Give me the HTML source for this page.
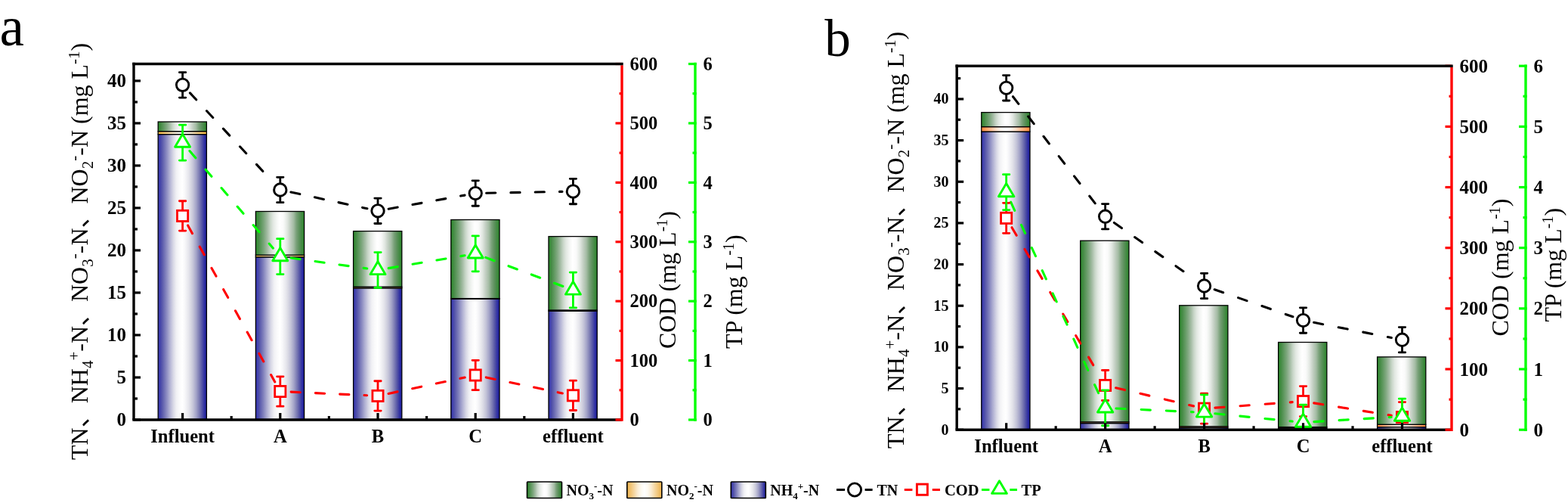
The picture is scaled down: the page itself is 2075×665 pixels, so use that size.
<!DOCTYPE html>
<html><head><meta charset="utf-8"><title>Figure</title>
<style>html,body{margin:0;padding:0;background:#fff;overflow:hidden}svg{display:block}text{font-family:'Liberation Serif', 'Noto Sans CJK SC', serif;fill:#000}</style>
</head><body>
<svg width="2075" height="665" viewBox="0 0 2075 665">
<defs><linearGradient id="gb" x1="0" y1="0" x2="1" y2="0"><stop offset="0.000" stop-color="#3030b0"/><stop offset="0.077" stop-color="#5555aa"/><stop offset="0.156" stop-color="#8080bc"/><stop offset="0.234" stop-color="#aeaed2"/><stop offset="0.313" stop-color="#d8d8e6"/><stop offset="0.376" stop-color="#f0f0f4"/><stop offset="0.439" stop-color="#fafafb"/><stop offset="0.500" stop-color="#ffffff"/><stop offset="0.549" stop-color="#f8f8fa"/><stop offset="0.627" stop-color="#e6e6ec"/><stop offset="0.675" stop-color="#d6d6e2"/><stop offset="0.722" stop-color="#c4c4d8"/><stop offset="0.785" stop-color="#a4a4c8"/><stop offset="0.847" stop-color="#7c7cb4"/><stop offset="0.910" stop-color="#5050a4"/><stop offset="0.958" stop-color="#2e2ea4"/><stop offset="1.000" stop-color="#1a1a9a"/></linearGradient><linearGradient id="gg" x1="0" y1="0" x2="1" y2="0"><stop offset="0.000" stop-color="#289028"/><stop offset="0.050" stop-color="#428a42"/><stop offset="0.110" stop-color="#5e985e"/><stop offset="0.170" stop-color="#7ca67c"/><stop offset="0.240" stop-color="#a4bca4"/><stop offset="0.300" stop-color="#c8d6c8"/><stop offset="0.360" stop-color="#e2e8e2"/><stop offset="0.430" stop-color="#f4f6f4"/><stop offset="0.490" stop-color="#ffffff"/><stop offset="0.560" stop-color="#fbfbfb"/><stop offset="0.590" stop-color="#f4f6f4"/><stop offset="0.650" stop-color="#e0e6e0"/><stop offset="0.710" stop-color="#c4d0c4"/><stop offset="0.780" stop-color="#a4bca4"/><stop offset="0.840" stop-color="#78a078"/><stop offset="0.900" stop-color="#5a905a"/><stop offset="0.970" stop-color="#388838"/><stop offset="1.000" stop-color="#228a22"/></linearGradient><linearGradient id="goa" x1="0" y1="0" x2="1" y2="0"><stop offset="0.000" stop-color="#ffbc3a"/><stop offset="0.100" stop-color="#ffcc69"/><stop offset="0.200" stop-color="#ffdc99"/><stop offset="0.300" stop-color="#ffeecc"/><stop offset="0.400" stop-color="#fffaef"/><stop offset="0.500" stop-color="#ffffff"/><stop offset="0.600" stop-color="#fffaef"/><stop offset="0.700" stop-color="#ffeecc"/><stop offset="0.800" stop-color="#ffdc99"/><stop offset="0.900" stop-color="#ffcc69"/><stop offset="1.000" stop-color="#ffbc3a"/></linearGradient><linearGradient id="gob" x1="0" y1="0" x2="1" y2="0"><stop offset="0.000" stop-color="#ff8838"/><stop offset="0.100" stop-color="#ffa568"/><stop offset="0.200" stop-color="#ffc198"/><stop offset="0.300" stop-color="#ffe0cb"/><stop offset="0.400" stop-color="#fff5ef"/><stop offset="0.500" stop-color="#ffffff"/><stop offset="0.600" stop-color="#fff5ef"/><stop offset="0.700" stop-color="#ffe0cb"/><stop offset="0.800" stop-color="#ffc198"/><stop offset="0.900" stop-color="#ffa568"/><stop offset="1.000" stop-color="#ff8838"/></linearGradient><linearGradient id="gol" x1="0" y1="0" x2="1" y2="0"><stop offset="0.000" stop-color="#ecb048"/><stop offset="0.100" stop-color="#f1c374"/><stop offset="0.200" stop-color="#f5d6a0"/><stop offset="0.300" stop-color="#faeacf"/><stop offset="0.400" stop-color="#fdf9f0"/><stop offset="0.500" stop-color="#ffffff"/><stop offset="0.600" stop-color="#fdf9f0"/><stop offset="0.700" stop-color="#faeacf"/><stop offset="0.800" stop-color="#f5d6a0"/><stop offset="0.900" stop-color="#f1c374"/><stop offset="1.000" stop-color="#ecb048"/></linearGradient><clipPath id="clipa"><rect x="177.00" y="84.50" width="646.00" height="470.50"/></clipPath><clipPath id="clipb"><rect x="1266.20" y="87.20" width="654.80" height="481.00"/></clipPath></defs>
<rect width="2075" height="665" fill="#fff"/>
<rect x="209.20" y="177.60" width="64.20" height="377.40" fill="url(#gb)" stroke="#000" stroke-width="1.30"/>
<rect x="209.20" y="173.70" width="64.20" height="3.90" fill="url(#goa)" stroke="#000" stroke-width="1.30"/>
<rect x="209.20" y="161.00" width="64.20" height="12.70" fill="url(#gg)" stroke="#000" stroke-width="1.30"/>
<rect x="338.40" y="339.80" width="64.20" height="215.20" fill="url(#gb)" stroke="#000" stroke-width="1.30"/>
<rect x="338.40" y="337.20" width="64.20" height="2.60" fill="url(#goa)" stroke="#000" stroke-width="1.30"/>
<rect x="338.40" y="279.50" width="64.20" height="57.70" fill="url(#gg)" stroke="#000" stroke-width="1.30"/>
<rect x="467.60" y="380.90" width="64.20" height="174.10" fill="url(#gb)" stroke="#000" stroke-width="1.30"/>
<rect x="467.60" y="379.20" width="64.20" height="1.70" fill="url(#goa)" stroke="#000" stroke-width="1.30"/>
<rect x="467.60" y="305.60" width="64.20" height="73.60" fill="url(#gg)" stroke="#000" stroke-width="1.30"/>
<rect x="596.80" y="395.20" width="64.20" height="159.80" fill="url(#gb)" stroke="#000" stroke-width="1.30"/>
<rect x="596.80" y="394.60" width="64.20" height="0.60" fill="url(#goa)" stroke="#000" stroke-width="1.30"/>
<rect x="596.80" y="290.50" width="64.20" height="104.10" fill="url(#gg)" stroke="#000" stroke-width="1.30"/>
<rect x="726.00" y="411.20" width="64.20" height="143.80" fill="url(#gb)" stroke="#000" stroke-width="1.30"/>
<rect x="726.00" y="410.00" width="64.20" height="1.20" fill="url(#goa)" stroke="#000" stroke-width="1.30"/>
<rect x="726.00" y="312.60" width="64.20" height="97.40" fill="url(#gg)" stroke="#000" stroke-width="1.30"/>
<g clip-path="url(#clipa)">
<line x1="251.42" y1="122.89" x2="360.98" y2="240.46" stroke="#000" stroke-width="3.1" stroke-dasharray="12.2 20.1" stroke-linecap="round"/>
<line x1="384.88" y1="254.03" x2="485.92" y2="275.77" stroke="#000" stroke-width="3.1" stroke-dasharray="12.2 20.1" stroke-linecap="round"/>
<line x1="514.17" y1="276.25" x2="615.03" y2="258.10" stroke="#000" stroke-width="3.1" stroke-dasharray="12.2 20.1" stroke-linecap="round"/>
<line x1="643.60" y1="255.27" x2="744.00" y2="253.33" stroke="#000" stroke-width="3.1" stroke-dasharray="12.2 20.1" stroke-linecap="round"/>
<line x1="248.60" y1="297.98" x2="363.80" y2="504.92" stroke="#f00" stroke-width="3.1" stroke-dasharray="12.2 20.1" stroke-linecap="round"/>
<line x1="385.19" y1="518.16" x2="485.61" y2="522.74" stroke="#f00" stroke-width="3.1" stroke-dasharray="12.2 20.1" stroke-linecap="round"/>
<line x1="514.09" y1="520.41" x2="615.11" y2="498.99" stroke="#f00" stroke-width="3.1" stroke-dasharray="12.2 20.1" stroke-linecap="round"/>
<line x1="643.30" y1="498.93" x2="744.30" y2="519.92" stroke="#f00" stroke-width="3.1" stroke-dasharray="12.2 20.1" stroke-linecap="round"/>
<line x1="250.98" y1="199.53" x2="361.42" y2="328.17" stroke="#0f0" stroke-width="3.1" stroke-dasharray="12.2 20.1" stroke-linecap="round"/>
<line x1="385.06" y1="341.08" x2="485.74" y2="355.02" stroke="#0f0" stroke-width="3.1" stroke-dasharray="12.2 20.1" stroke-linecap="round"/>
<line x1="514.20" y1="354.63" x2="615.00" y2="337.77" stroke="#0f0" stroke-width="3.1" stroke-dasharray="12.2 20.1" stroke-linecap="round"/>
<line x1="642.70" y1="340.42" x2="744.90" y2="378.48" stroke="#0f0" stroke-width="3.1" stroke-dasharray="12.2 20.1" stroke-linecap="round"/>
<path d="M241.60 95.65 V129.05 M237.40 95.65 h8.4 M237.40 129.05 h8.4" stroke="#000" stroke-width="2.8" stroke-linecap="round" fill="none"/>
<path d="M370.80 234.30 V267.70 M366.60 234.30 h8.4 M366.60 267.70 h8.4" stroke="#000" stroke-width="2.8" stroke-linecap="round" fill="none"/>
<path d="M500.00 262.10 V295.50 M495.80 262.10 h8.4 M495.80 295.50 h8.4" stroke="#000" stroke-width="2.8" stroke-linecap="round" fill="none"/>
<path d="M629.20 238.85 V272.25 M625.00 238.85 h8.4 M625.00 272.25 h8.4" stroke="#000" stroke-width="2.8" stroke-linecap="round" fill="none"/>
<path d="M758.40 236.35 V269.75 M754.20 236.35 h8.4 M754.20 269.75 h8.4" stroke="#000" stroke-width="2.8" stroke-linecap="round" fill="none"/>
<circle cx="241.60" cy="112.35" r="8.2" fill="#fff" stroke="#000" stroke-width="2.9"/>
<circle cx="370.80" cy="251.00" r="8.2" fill="#fff" stroke="#000" stroke-width="2.9"/>
<circle cx="500.00" cy="278.80" r="8.2" fill="#fff" stroke="#000" stroke-width="2.9"/>
<circle cx="629.20" cy="255.55" r="8.2" fill="#fff" stroke="#000" stroke-width="2.9"/>
<circle cx="758.40" cy="253.05" r="8.2" fill="#fff" stroke="#000" stroke-width="2.9"/>
<path d="M241.60 265.75 V305.05 M237.40 265.75 h8.4 M237.40 305.05 h8.4" stroke="#f00" stroke-width="2.8" stroke-linecap="round" fill="none"/>
<path d="M370.80 497.85 V537.15 M366.60 497.85 h8.4 M366.60 537.15 h8.4" stroke="#f00" stroke-width="2.8" stroke-linecap="round" fill="none"/>
<path d="M500.00 503.75 V543.05 M495.80 503.75 h8.4 M495.80 543.05 h8.4" stroke="#f00" stroke-width="2.8" stroke-linecap="round" fill="none"/>
<path d="M629.20 476.35 V515.65 M625.00 476.35 h8.4 M625.00 515.65 h8.4" stroke="#f00" stroke-width="2.8" stroke-linecap="round" fill="none"/>
<path d="M758.40 503.20 V542.50 M754.20 503.20 h8.4 M754.20 542.50 h8.4" stroke="#f00" stroke-width="2.8" stroke-linecap="round" fill="none"/>
<rect x="234.50" y="278.30" width="14.2" height="14.2" fill="#fff" stroke="#f00" stroke-width="2.8"/>
<rect x="363.70" y="510.40" width="14.2" height="14.2" fill="#fff" stroke="#f00" stroke-width="2.8"/>
<rect x="492.90" y="516.30" width="14.2" height="14.2" fill="#fff" stroke="#f00" stroke-width="2.8"/>
<rect x="622.10" y="488.90" width="14.2" height="14.2" fill="#fff" stroke="#f00" stroke-width="2.8"/>
<rect x="751.30" y="515.75" width="14.2" height="14.2" fill="#fff" stroke="#f00" stroke-width="2.8"/>
<path d="M241.60 165.15 V212.05 M237.40 165.15 h8.4 M237.40 212.05 h8.4" stroke="#0f0" stroke-width="2.8" stroke-linecap="round" fill="none"/>
<path d="M370.80 315.65 V362.55 M366.60 315.65 h8.4 M366.60 362.55 h8.4" stroke="#0f0" stroke-width="2.8" stroke-linecap="round" fill="none"/>
<path d="M500.00 333.55 V380.45 M495.80 333.55 h8.4 M495.80 380.45 h8.4" stroke="#0f0" stroke-width="2.8" stroke-linecap="round" fill="none"/>
<path d="M629.20 311.95 V358.85 M625.00 311.95 h8.4 M625.00 358.85 h8.4" stroke="#0f0" stroke-width="2.8" stroke-linecap="round" fill="none"/>
<path d="M758.40 360.05 V406.95 M754.20 360.05 h8.4 M754.20 406.95 h8.4" stroke="#0f0" stroke-width="2.8" stroke-linecap="round" fill="none"/>
<path d="M241.60 177.30 L251.60 194.25 L231.60 194.25 Z" fill="#fff" stroke="#0f0" stroke-width="2.9" stroke-linejoin="round"/>
<path d="M370.80 327.80 L380.80 344.75 L360.80 344.75 Z" fill="#fff" stroke="#0f0" stroke-width="2.9" stroke-linejoin="round"/>
<path d="M500.00 345.70 L510.00 362.65 L490.00 362.65 Z" fill="#fff" stroke="#0f0" stroke-width="2.9" stroke-linejoin="round"/>
<path d="M629.20 324.10 L639.20 341.05 L619.20 341.05 Z" fill="#fff" stroke="#0f0" stroke-width="2.9" stroke-linejoin="round"/>
<path d="M758.40 372.20 L768.40 389.15 L748.40 389.15 Z" fill="#fff" stroke="#0f0" stroke-width="2.9" stroke-linejoin="round"/>
</g>
<line x1="241.60" y1="555.00" x2="241.60" y2="546.00" stroke="#000" stroke-width="3.2"/>
<line x1="370.80" y1="555.00" x2="370.80" y2="546.00" stroke="#000" stroke-width="3.2"/>
<line x1="500.00" y1="555.00" x2="500.00" y2="546.00" stroke="#000" stroke-width="3.2"/>
<line x1="629.20" y1="555.00" x2="629.20" y2="546.00" stroke="#000" stroke-width="3.2"/>
<line x1="758.40" y1="555.00" x2="758.40" y2="546.00" stroke="#000" stroke-width="3.2"/>
<line x1="306.20" y1="555.00" x2="306.20" y2="550.00" stroke="#000" stroke-width="3.2"/>
<line x1="435.40" y1="555.00" x2="435.40" y2="550.00" stroke="#000" stroke-width="3.2"/>
<line x1="564.60" y1="555.00" x2="564.60" y2="550.00" stroke="#000" stroke-width="3.2"/>
<line x1="693.80" y1="555.00" x2="693.80" y2="550.00" stroke="#000" stroke-width="3.2"/>
<line x1="177.00" y1="555.00" x2="186.00" y2="555.00" stroke="#000" stroke-width="3.2"/>
<text x="167.00" y="563.40" text-anchor="end" font-size="25" font-weight="bold">0</text>
<line x1="177.00" y1="526.99" x2="182.00" y2="526.99" stroke="#000" stroke-width="3.2"/>
<line x1="177.00" y1="498.99" x2="186.00" y2="498.99" stroke="#000" stroke-width="3.2"/>
<text x="167.00" y="507.39" text-anchor="end" font-size="25" font-weight="bold">5</text>
<line x1="177.00" y1="470.98" x2="182.00" y2="470.98" stroke="#000" stroke-width="3.2"/>
<line x1="177.00" y1="442.98" x2="186.00" y2="442.98" stroke="#000" stroke-width="3.2"/>
<text x="167.00" y="451.38" text-anchor="end" font-size="25" font-weight="bold">10</text>
<line x1="177.00" y1="414.97" x2="182.00" y2="414.97" stroke="#000" stroke-width="3.2"/>
<line x1="177.00" y1="386.96" x2="186.00" y2="386.96" stroke="#000" stroke-width="3.2"/>
<text x="167.00" y="395.36" text-anchor="end" font-size="25" font-weight="bold">15</text>
<line x1="177.00" y1="358.96" x2="182.00" y2="358.96" stroke="#000" stroke-width="3.2"/>
<line x1="177.00" y1="330.95" x2="186.00" y2="330.95" stroke="#000" stroke-width="3.2"/>
<text x="167.00" y="339.35" text-anchor="end" font-size="25" font-weight="bold">20</text>
<line x1="177.00" y1="302.95" x2="182.00" y2="302.95" stroke="#000" stroke-width="3.2"/>
<line x1="177.00" y1="274.94" x2="186.00" y2="274.94" stroke="#000" stroke-width="3.2"/>
<text x="167.00" y="283.34" text-anchor="end" font-size="25" font-weight="bold">25</text>
<line x1="177.00" y1="246.93" x2="182.00" y2="246.93" stroke="#000" stroke-width="3.2"/>
<line x1="177.00" y1="218.93" x2="186.00" y2="218.93" stroke="#000" stroke-width="3.2"/>
<text x="167.00" y="227.33" text-anchor="end" font-size="25" font-weight="bold">30</text>
<line x1="177.00" y1="190.92" x2="182.00" y2="190.92" stroke="#000" stroke-width="3.2"/>
<line x1="177.00" y1="162.92" x2="186.00" y2="162.92" stroke="#000" stroke-width="3.2"/>
<text x="167.00" y="171.32" text-anchor="end" font-size="25" font-weight="bold">35</text>
<line x1="177.00" y1="134.91" x2="182.00" y2="134.91" stroke="#000" stroke-width="3.2"/>
<line x1="177.00" y1="106.90" x2="186.00" y2="106.90" stroke="#000" stroke-width="3.2"/>
<text x="167.00" y="115.30" text-anchor="end" font-size="25" font-weight="bold">40</text>
<line x1="177.00" y1="555.00" x2="177.00" y2="82.80" stroke="#000" stroke-width="3.4"/>
<line x1="175.30" y1="555.00" x2="823.00" y2="555.00" stroke="#000" stroke-width="3.4"/>
<line x1="823.00" y1="86.20" x2="823.00" y2="556.70" stroke="#f00" stroke-width="3.4"/>
<line x1="823.00" y1="555.00" x2="814.50" y2="555.00" stroke="#f00" stroke-width="3.2"/>
<text x="833.50" y="563.30" font-size="24.5" font-weight="bold">0</text>
<line x1="823.00" y1="515.79" x2="819.50" y2="515.79" stroke="#f00" stroke-width="3.2"/>
<line x1="823.00" y1="476.58" x2="814.50" y2="476.58" stroke="#f00" stroke-width="3.2"/>
<text x="833.50" y="484.88" font-size="24.5" font-weight="bold">100</text>
<line x1="823.00" y1="437.38" x2="819.50" y2="437.38" stroke="#f00" stroke-width="3.2"/>
<line x1="823.00" y1="398.17" x2="814.50" y2="398.17" stroke="#f00" stroke-width="3.2"/>
<text x="833.50" y="406.47" font-size="24.5" font-weight="bold">200</text>
<line x1="823.00" y1="358.96" x2="819.50" y2="358.96" stroke="#f00" stroke-width="3.2"/>
<line x1="823.00" y1="319.75" x2="814.50" y2="319.75" stroke="#f00" stroke-width="3.2"/>
<text x="833.50" y="328.05" font-size="24.5" font-weight="bold">300</text>
<line x1="823.00" y1="280.54" x2="819.50" y2="280.54" stroke="#f00" stroke-width="3.2"/>
<line x1="823.00" y1="241.33" x2="814.50" y2="241.33" stroke="#f00" stroke-width="3.2"/>
<text x="833.50" y="249.63" font-size="24.5" font-weight="bold">400</text>
<line x1="823.00" y1="202.12" x2="819.50" y2="202.12" stroke="#f00" stroke-width="3.2"/>
<line x1="823.00" y1="162.92" x2="814.50" y2="162.92" stroke="#f00" stroke-width="3.2"/>
<text x="833.50" y="171.22" font-size="24.5" font-weight="bold">500</text>
<line x1="823.00" y1="123.71" x2="819.50" y2="123.71" stroke="#f00" stroke-width="3.2"/>
<line x1="823.00" y1="84.50" x2="814.50" y2="84.50" stroke="#f00" stroke-width="3.2"/>
<text x="833.50" y="92.80" font-size="24.5" font-weight="bold">600</text>
<line x1="920.00" y1="82.80" x2="920.00" y2="556.70" stroke="#0f0" stroke-width="3.4"/>
<line x1="921.70" y1="555.00" x2="911.00" y2="555.00" stroke="#0f0" stroke-width="3.2"/>
<text x="930.50" y="563.30" font-size="24.5" font-weight="bold">0</text>
<line x1="921.70" y1="515.79" x2="916.50" y2="515.79" stroke="#0f0" stroke-width="3.2"/>
<line x1="921.70" y1="476.58" x2="911.00" y2="476.58" stroke="#0f0" stroke-width="3.2"/>
<text x="930.50" y="484.88" font-size="24.5" font-weight="bold">1</text>
<line x1="921.70" y1="437.38" x2="916.50" y2="437.38" stroke="#0f0" stroke-width="3.2"/>
<line x1="921.70" y1="398.17" x2="911.00" y2="398.17" stroke="#0f0" stroke-width="3.2"/>
<text x="930.50" y="406.47" font-size="24.5" font-weight="bold">2</text>
<line x1="921.70" y1="358.96" x2="916.50" y2="358.96" stroke="#0f0" stroke-width="3.2"/>
<line x1="921.70" y1="319.75" x2="911.00" y2="319.75" stroke="#0f0" stroke-width="3.2"/>
<text x="930.50" y="328.05" font-size="24.5" font-weight="bold">3</text>
<line x1="921.70" y1="280.54" x2="916.50" y2="280.54" stroke="#0f0" stroke-width="3.2"/>
<line x1="921.70" y1="241.33" x2="911.00" y2="241.33" stroke="#0f0" stroke-width="3.2"/>
<text x="930.50" y="249.63" font-size="24.5" font-weight="bold">4</text>
<line x1="921.70" y1="202.12" x2="916.50" y2="202.12" stroke="#0f0" stroke-width="3.2"/>
<line x1="921.70" y1="162.92" x2="911.00" y2="162.92" stroke="#0f0" stroke-width="3.2"/>
<text x="930.50" y="171.22" font-size="24.5" font-weight="bold">5</text>
<line x1="921.70" y1="123.71" x2="916.50" y2="123.71" stroke="#0f0" stroke-width="3.2"/>
<line x1="921.70" y1="84.50" x2="911.00" y2="84.50" stroke="#0f0" stroke-width="3.2"/>
<text x="930.50" y="92.80" font-size="24.5" font-weight="bold">6</text>
<line x1="175.30" y1="84.50" x2="824.70" y2="84.50" stroke="#000" stroke-width="3.4"/>
<text x="241.60" y="585.00" text-anchor="middle" font-size="24.6" font-weight="bold">Influent</text>
<text x="370.80" y="585.00" text-anchor="middle" font-size="24.6" font-weight="bold">A</text>
<text x="500.00" y="585.00" text-anchor="middle" font-size="24.6" font-weight="bold">B</text>
<text x="629.20" y="585.00" text-anchor="middle" font-size="24.6" font-weight="bold">C</text>
<text x="758.40" y="585.00" text-anchor="middle" font-size="24.6" font-weight="bold">effluent</text>
<rect x="1298.78" y="174.00" width="64.20" height="394.20" fill="url(#gb)" stroke="#000" stroke-width="1.30"/>
<rect x="1298.78" y="167.60" width="64.20" height="6.40" fill="url(#gob)" stroke="#000" stroke-width="1.30"/>
<rect x="1298.78" y="148.60" width="64.20" height="19.00" fill="url(#gg)" stroke="#000" stroke-width="1.30"/>
<rect x="1429.74" y="559.60" width="64.20" height="8.60" fill="url(#gb)" stroke="#000" stroke-width="1.30"/>
<rect x="1429.74" y="557.80" width="64.20" height="1.80" fill="url(#gob)" stroke="#000" stroke-width="1.30"/>
<rect x="1429.74" y="318.20" width="64.20" height="239.60" fill="url(#gg)" stroke="#000" stroke-width="1.30"/>
<rect x="1560.70" y="565.50" width="64.20" height="2.70" fill="url(#gb)" stroke="#000" stroke-width="1.30"/>
<rect x="1560.70" y="563.80" width="64.20" height="1.70" fill="url(#gob)" stroke="#000" stroke-width="1.30"/>
<rect x="1560.70" y="403.80" width="64.20" height="160.00" fill="url(#gg)" stroke="#000" stroke-width="1.30"/>
<rect x="1691.66" y="566.00" width="64.20" height="2.20" fill="url(#gb)" stroke="#000" stroke-width="1.30"/>
<rect x="1691.66" y="564.60" width="64.20" height="1.40" fill="url(#gob)" stroke="#000" stroke-width="1.30"/>
<rect x="1691.66" y="452.50" width="64.20" height="112.10" fill="url(#gg)" stroke="#000" stroke-width="1.30"/>
<rect x="1822.62" y="564.60" width="64.20" height="3.60" fill="url(#gb)" stroke="#000" stroke-width="1.30"/>
<rect x="1822.62" y="561.20" width="64.20" height="3.40" fill="url(#gob)" stroke="#000" stroke-width="1.30"/>
<rect x="1822.62" y="471.90" width="64.20" height="89.30" fill="url(#gg)" stroke="#000" stroke-width="1.30"/>
<g clip-path="url(#clipb)">
<line x1="1340.47" y1="127.71" x2="1453.85" y2="274.84" stroke="#000" stroke-width="3.1" stroke-dasharray="12.2 21" stroke-linecap="round"/>
<line x1="1474.43" y1="294.51" x2="1581.81" y2="369.74" stroke="#000" stroke-width="3.1" stroke-dasharray="12.2 21" stroke-linecap="round"/>
<line x1="1607.20" y1="382.73" x2="1710.96" y2="418.82" stroke="#000" stroke-width="3.1" stroke-dasharray="12.2 21" stroke-linecap="round"/>
<line x1="1738.69" y1="426.32" x2="1841.39" y2="446.48" stroke="#000" stroke-width="3.1" stroke-dasharray="12.2 21" stroke-linecap="round"/>
<line x1="1339.02" y1="300.74" x2="1455.30" y2="497.11" stroke="#f00" stroke-width="3.1" stroke-dasharray="12.2 21" stroke-linecap="round"/>
<line x1="1476.66" y1="512.78" x2="1579.58" y2="536.87" stroke="#f00" stroke-width="3.1" stroke-dasharray="12.2 21" stroke-linecap="round"/>
<line x1="1607.96" y1="539.10" x2="1710.20" y2="531.65" stroke="#f00" stroke-width="3.1" stroke-dasharray="12.2 21" stroke-linecap="round"/>
<line x1="1738.78" y1="532.88" x2="1841.30" y2="549.32" stroke="#f00" stroke-width="3.1" stroke-dasharray="12.2 21" stroke-linecap="round"/>
<line x1="1337.69" y1="267.19" x2="1456.63" y2="526.21" stroke="#0f0" stroke-width="3.1" stroke-dasharray="12.2 21" stroke-linecap="round"/>
<line x1="1477.02" y1="539.97" x2="1579.22" y2="544.73" stroke="#0f0" stroke-width="3.1" stroke-dasharray="12.2 21" stroke-linecap="round"/>
<line x1="1607.93" y1="546.83" x2="1710.23" y2="557.07" stroke="#0f0" stroke-width="3.1" stroke-dasharray="12.2 21" stroke-linecap="round"/>
<line x1="1738.93" y1="557.63" x2="1841.15" y2="551.47" stroke="#0f0" stroke-width="3.1" stroke-dasharray="12.2 21" stroke-linecap="round"/>
<path d="M1331.68 99.60 V133.00 M1327.48 99.60 h8.4 M1327.48 133.00 h8.4" stroke="#000" stroke-width="2.8" stroke-linecap="round" fill="none"/>
<path d="M1462.64 269.55 V302.95 M1458.44 269.55 h8.4 M1458.44 302.95 h8.4" stroke="#000" stroke-width="2.8" stroke-linecap="round" fill="none"/>
<path d="M1593.60 361.30 V394.70 M1589.40 361.30 h8.4 M1589.40 394.70 h8.4" stroke="#000" stroke-width="2.8" stroke-linecap="round" fill="none"/>
<path d="M1724.56 406.85 V440.25 M1720.36 406.85 h8.4 M1720.36 440.25 h8.4" stroke="#000" stroke-width="2.8" stroke-linecap="round" fill="none"/>
<path d="M1855.52 432.55 V465.95 M1851.32 432.55 h8.4 M1851.32 465.95 h8.4" stroke="#000" stroke-width="2.8" stroke-linecap="round" fill="none"/>
<circle cx="1331.68" cy="116.30" r="8.2" fill="#fff" stroke="#000" stroke-width="2.9"/>
<circle cx="1462.64" cy="286.25" r="8.2" fill="#fff" stroke="#000" stroke-width="2.9"/>
<circle cx="1593.60" cy="378.00" r="8.2" fill="#fff" stroke="#000" stroke-width="2.9"/>
<circle cx="1724.56" cy="423.55" r="8.2" fill="#fff" stroke="#000" stroke-width="2.9"/>
<circle cx="1855.52" cy="449.25" r="8.2" fill="#fff" stroke="#000" stroke-width="2.9"/>
<path d="M1331.68 268.35 V308.35 M1327.48 268.35 h8.4 M1327.48 308.35 h8.4" stroke="#f00" stroke-width="2.8" stroke-linecap="round" fill="none"/>
<path d="M1462.64 489.50 V529.50 M1458.44 489.50 h8.4 M1458.44 529.50 h8.4" stroke="#f00" stroke-width="2.8" stroke-linecap="round" fill="none"/>
<path d="M1593.60 520.15 V560.15 M1589.40 520.15 h8.4 M1589.40 560.15 h8.4" stroke="#f00" stroke-width="2.8" stroke-linecap="round" fill="none"/>
<path d="M1724.56 510.60 V550.60 M1720.36 510.60 h8.4 M1720.36 550.60 h8.4" stroke="#f00" stroke-width="2.8" stroke-linecap="round" fill="none"/>
<path d="M1855.52 531.60 V571.60 M1851.32 531.60 h8.4 M1851.32 571.60 h8.4" stroke="#f00" stroke-width="2.8" stroke-linecap="round" fill="none"/>
<rect x="1324.58" y="281.25" width="14.2" height="14.2" fill="#fff" stroke="#f00" stroke-width="2.8"/>
<rect x="1455.54" y="502.40" width="14.2" height="14.2" fill="#fff" stroke="#f00" stroke-width="2.8"/>
<rect x="1586.50" y="533.05" width="14.2" height="14.2" fill="#fff" stroke="#f00" stroke-width="2.8"/>
<rect x="1717.46" y="523.50" width="14.2" height="14.2" fill="#fff" stroke="#f00" stroke-width="2.8"/>
<rect x="1848.42" y="544.50" width="14.2" height="14.2" fill="#fff" stroke="#f00" stroke-width="2.8"/>
<path d="M1331.68 230.65 V277.55 M1327.48 230.65 h8.4 M1327.48 277.55 h8.4" stroke="#0f0" stroke-width="2.8" stroke-linecap="round" fill="none"/>
<path d="M1462.64 515.85 V562.75 M1458.44 515.85 h8.4 M1458.44 562.75 h8.4" stroke="#0f0" stroke-width="2.8" stroke-linecap="round" fill="none"/>
<path d="M1593.60 521.95 V568.85 M1589.40 521.95 h8.4 M1589.40 568.85 h8.4" stroke="#0f0" stroke-width="2.8" stroke-linecap="round" fill="none"/>
<path d="M1724.56 535.05 V581.95 M1720.36 535.05 h8.4 M1720.36 581.95 h8.4" stroke="#0f0" stroke-width="2.8" stroke-linecap="round" fill="none"/>
<path d="M1855.52 527.15 V574.05 M1851.32 527.15 h8.4 M1851.32 574.05 h8.4" stroke="#0f0" stroke-width="2.8" stroke-linecap="round" fill="none"/>
<path d="M1331.68 242.60 L1341.88 259.80 L1321.48 259.80 Z" fill="#fff" stroke="#0f0" stroke-width="2.9" stroke-linejoin="round"/>
<path d="M1462.64 527.80 L1472.84 545.00 L1452.44 545.00 Z" fill="#fff" stroke="#0f0" stroke-width="2.9" stroke-linejoin="round"/>
<path d="M1593.60 533.90 L1603.80 551.10 L1583.40 551.10 Z" fill="#fff" stroke="#0f0" stroke-width="2.9" stroke-linejoin="round"/>
<path d="M1724.56 547.00 L1734.76 564.20 L1714.36 564.20 Z" fill="#fff" stroke="#0f0" stroke-width="2.9" stroke-linejoin="round"/>
<path d="M1855.52 539.10 L1865.72 556.30 L1845.32 556.30 Z" fill="#fff" stroke="#0f0" stroke-width="2.9" stroke-linejoin="round"/>
</g>
<line x1="1331.68" y1="568.20" x2="1331.68" y2="559.20" stroke="#000" stroke-width="3.2"/>
<line x1="1462.64" y1="568.20" x2="1462.64" y2="559.20" stroke="#000" stroke-width="3.2"/>
<line x1="1593.60" y1="568.20" x2="1593.60" y2="559.20" stroke="#000" stroke-width="3.2"/>
<line x1="1724.56" y1="568.20" x2="1724.56" y2="559.20" stroke="#000" stroke-width="3.2"/>
<line x1="1855.52" y1="568.20" x2="1855.52" y2="559.20" stroke="#000" stroke-width="3.2"/>
<line x1="1397.16" y1="568.20" x2="1397.16" y2="563.20" stroke="#000" stroke-width="3.2"/>
<line x1="1528.12" y1="568.20" x2="1528.12" y2="563.20" stroke="#000" stroke-width="3.2"/>
<line x1="1659.08" y1="568.20" x2="1659.08" y2="563.20" stroke="#000" stroke-width="3.2"/>
<line x1="1790.04" y1="568.20" x2="1790.04" y2="563.20" stroke="#000" stroke-width="3.2"/>
<line x1="1266.20" y1="568.20" x2="1275.20" y2="568.20" stroke="#000" stroke-width="3.2"/>
<text x="1255.50" y="574.50" text-anchor="end" font-size="20" font-weight="bold">0</text>
<line x1="1266.20" y1="540.87" x2="1271.20" y2="540.87" stroke="#000" stroke-width="3.2"/>
<line x1="1266.20" y1="513.54" x2="1275.20" y2="513.54" stroke="#000" stroke-width="3.2"/>
<text x="1255.50" y="519.84" text-anchor="end" font-size="20" font-weight="bold">5</text>
<line x1="1266.20" y1="486.21" x2="1271.20" y2="486.21" stroke="#000" stroke-width="3.2"/>
<line x1="1266.20" y1="458.88" x2="1275.20" y2="458.88" stroke="#000" stroke-width="3.2"/>
<text x="1255.50" y="465.18" text-anchor="end" font-size="20" font-weight="bold">10</text>
<line x1="1266.20" y1="431.55" x2="1271.20" y2="431.55" stroke="#000" stroke-width="3.2"/>
<line x1="1266.20" y1="404.22" x2="1275.20" y2="404.22" stroke="#000" stroke-width="3.2"/>
<text x="1255.50" y="410.52" text-anchor="end" font-size="20" font-weight="bold">15</text>
<line x1="1266.20" y1="376.89" x2="1271.20" y2="376.89" stroke="#000" stroke-width="3.2"/>
<line x1="1266.20" y1="349.56" x2="1275.20" y2="349.56" stroke="#000" stroke-width="3.2"/>
<text x="1255.50" y="355.86" text-anchor="end" font-size="20" font-weight="bold">20</text>
<line x1="1266.20" y1="322.23" x2="1271.20" y2="322.23" stroke="#000" stroke-width="3.2"/>
<line x1="1266.20" y1="294.90" x2="1275.20" y2="294.90" stroke="#000" stroke-width="3.2"/>
<text x="1255.50" y="301.20" text-anchor="end" font-size="20" font-weight="bold">25</text>
<line x1="1266.20" y1="267.57" x2="1271.20" y2="267.57" stroke="#000" stroke-width="3.2"/>
<line x1="1266.20" y1="240.25" x2="1275.20" y2="240.25" stroke="#000" stroke-width="3.2"/>
<text x="1255.50" y="246.55" text-anchor="end" font-size="20" font-weight="bold">30</text>
<line x1="1266.20" y1="212.92" x2="1271.20" y2="212.92" stroke="#000" stroke-width="3.2"/>
<line x1="1266.20" y1="185.59" x2="1275.20" y2="185.59" stroke="#000" stroke-width="3.2"/>
<text x="1255.50" y="191.89" text-anchor="end" font-size="20" font-weight="bold">35</text>
<line x1="1266.20" y1="158.26" x2="1271.20" y2="158.26" stroke="#000" stroke-width="3.2"/>
<line x1="1266.20" y1="130.93" x2="1275.20" y2="130.93" stroke="#000" stroke-width="3.2"/>
<text x="1255.50" y="137.23" text-anchor="end" font-size="20" font-weight="bold">40</text>
<line x1="1266.20" y1="103.60" x2="1271.20" y2="103.60" stroke="#000" stroke-width="3.2"/>
<line x1="1266.20" y1="568.20" x2="1266.20" y2="85.50" stroke="#000" stroke-width="3.4"/>
<line x1="1264.50" y1="568.20" x2="1921.00" y2="568.20" stroke="#000" stroke-width="3.4"/>
<line x1="1921.00" y1="88.90" x2="1921.00" y2="569.90" stroke="#f00" stroke-width="3.4"/>
<line x1="1921.00" y1="568.20" x2="1912.50" y2="568.20" stroke="#f00" stroke-width="3.2"/>
<text x="1931.50" y="576.80" font-size="25" font-weight="bold">0</text>
<line x1="1921.00" y1="528.12" x2="1917.50" y2="528.12" stroke="#f00" stroke-width="3.2"/>
<line x1="1921.00" y1="488.03" x2="1912.50" y2="488.03" stroke="#f00" stroke-width="3.2"/>
<text x="1931.50" y="496.63" font-size="25" font-weight="bold">100</text>
<line x1="1921.00" y1="447.95" x2="1917.50" y2="447.95" stroke="#f00" stroke-width="3.2"/>
<line x1="1921.00" y1="407.87" x2="1912.50" y2="407.87" stroke="#f00" stroke-width="3.2"/>
<text x="1931.50" y="416.47" font-size="25" font-weight="bold">200</text>
<line x1="1921.00" y1="367.78" x2="1917.50" y2="367.78" stroke="#f00" stroke-width="3.2"/>
<line x1="1921.00" y1="327.70" x2="1912.50" y2="327.70" stroke="#f00" stroke-width="3.2"/>
<text x="1931.50" y="336.30" font-size="25" font-weight="bold">300</text>
<line x1="1921.00" y1="287.62" x2="1917.50" y2="287.62" stroke="#f00" stroke-width="3.2"/>
<line x1="1921.00" y1="247.53" x2="1912.50" y2="247.53" stroke="#f00" stroke-width="3.2"/>
<text x="1931.50" y="256.13" font-size="25" font-weight="bold">400</text>
<line x1="1921.00" y1="207.45" x2="1917.50" y2="207.45" stroke="#f00" stroke-width="3.2"/>
<line x1="1921.00" y1="167.37" x2="1912.50" y2="167.37" stroke="#f00" stroke-width="3.2"/>
<text x="1931.50" y="175.97" font-size="25" font-weight="bold">500</text>
<line x1="1921.00" y1="127.28" x2="1917.50" y2="127.28" stroke="#f00" stroke-width="3.2"/>
<line x1="1921.00" y1="87.20" x2="1912.50" y2="87.20" stroke="#f00" stroke-width="3.2"/>
<text x="1931.50" y="95.80" font-size="25" font-weight="bold">600</text>
<line x1="2019.00" y1="85.50" x2="2019.00" y2="569.90" stroke="#0f0" stroke-width="3.4"/>
<line x1="2020.70" y1="568.20" x2="2010.00" y2="568.20" stroke="#0f0" stroke-width="3.2"/>
<text x="2029.50" y="576.80" font-size="25" font-weight="bold">0</text>
<line x1="2020.70" y1="528.12" x2="2015.50" y2="528.12" stroke="#0f0" stroke-width="3.2"/>
<line x1="2020.70" y1="488.03" x2="2010.00" y2="488.03" stroke="#0f0" stroke-width="3.2"/>
<text x="2029.50" y="496.63" font-size="25" font-weight="bold">1</text>
<line x1="2020.70" y1="447.95" x2="2015.50" y2="447.95" stroke="#0f0" stroke-width="3.2"/>
<line x1="2020.70" y1="407.87" x2="2010.00" y2="407.87" stroke="#0f0" stroke-width="3.2"/>
<text x="2029.50" y="416.47" font-size="25" font-weight="bold">2</text>
<line x1="2020.70" y1="367.78" x2="2015.50" y2="367.78" stroke="#0f0" stroke-width="3.2"/>
<line x1="2020.70" y1="327.70" x2="2010.00" y2="327.70" stroke="#0f0" stroke-width="3.2"/>
<text x="2029.50" y="336.30" font-size="25" font-weight="bold">3</text>
<line x1="2020.70" y1="287.62" x2="2015.50" y2="287.62" stroke="#0f0" stroke-width="3.2"/>
<line x1="2020.70" y1="247.53" x2="2010.00" y2="247.53" stroke="#0f0" stroke-width="3.2"/>
<text x="2029.50" y="256.13" font-size="25" font-weight="bold">4</text>
<line x1="2020.70" y1="207.45" x2="2015.50" y2="207.45" stroke="#0f0" stroke-width="3.2"/>
<line x1="2020.70" y1="167.37" x2="2010.00" y2="167.37" stroke="#0f0" stroke-width="3.2"/>
<text x="2029.50" y="175.97" font-size="25" font-weight="bold">5</text>
<line x1="2020.70" y1="127.28" x2="2015.50" y2="127.28" stroke="#0f0" stroke-width="3.2"/>
<line x1="2020.70" y1="87.20" x2="2010.00" y2="87.20" stroke="#0f0" stroke-width="3.2"/>
<text x="2029.50" y="95.80" font-size="25" font-weight="bold">6</text>
<line x1="1264.50" y1="87.20" x2="1922.70" y2="87.20" stroke="#000" stroke-width="3.4"/>
<text x="1331.68" y="598.40" text-anchor="middle" font-size="24.6" font-weight="bold">Influent</text>
<text x="1462.64" y="598.40" text-anchor="middle" font-size="24.6" font-weight="bold">A</text>
<text x="1593.60" y="598.40" text-anchor="middle" font-size="24.6" font-weight="bold">B</text>
<text x="1724.56" y="598.40" text-anchor="middle" font-size="24.6" font-weight="bold">C</text>
<text x="1855.52" y="598.40" text-anchor="middle" font-size="24.6" font-weight="bold">effluent</text>
<text x="-0.5" y="59.6" font-size="73">a</text>
<text x="1091.2" y="73.7" font-size="69">b</text>
<text transform="translate(115.50 608.00) rotate(-90)" font-size="32">TN、NH<tspan font-size="21" dy="7">4</tspan><tspan font-size="21" dy="-18">+</tspan><tspan dy="11">-N、NO</tspan><tspan font-size="21" dy="7">3</tspan><tspan font-size="21" dy="-18">-</tspan><tspan dy="11">-N、NO</tspan><tspan font-size="21" dy="7">2</tspan><tspan font-size="21" dy="-18">-</tspan><tspan dy="11">-N (mg L</tspan><tspan font-size="21" dy="-11">-1</tspan><tspan dy="11">)</tspan></text>
<text transform="translate(1196.00 593.00) rotate(-90)" font-size="32">TN、NH<tspan font-size="21" dy="7">4</tspan><tspan font-size="21" dy="-18">+</tspan><tspan dy="11">-N、NO</tspan><tspan font-size="21" dy="7">3</tspan><tspan font-size="21" dy="-18">-</tspan><tspan dy="11">-N、NO</tspan><tspan font-size="21" dy="7">2</tspan><tspan font-size="21" dy="-18">-</tspan><tspan dy="11">-N (mg L</tspan><tspan font-size="21" dy="-11">-1</tspan><tspan dy="11">)</tspan></text>
<text transform="translate(893.50 461.00) rotate(-90)" font-size="32">COD (mg L<tspan font-size="20" dy="-11">-1</tspan><tspan dy="11">)</tspan></text>
<text transform="translate(982.00 461.00) rotate(-90)" font-size="32">TP (mg L<tspan font-size="20" dy="-11">-1</tspan><tspan dy="11">)</tspan></text>
<text transform="translate(1995.50 444.50) rotate(-90)" font-size="32">COD (mg L<tspan font-size="20" dy="-11">-1</tspan><tspan dy="11">)</tspan></text>
<text transform="translate(2066.00 425.50) rotate(-90)" font-size="32">TP (mg L<tspan font-size="20" dy="-11">-1</tspan><tspan dy="11">)</tspan></text>
<rect x="697.50" y="637" width="46" height="21.5" fill="url(#gg)" stroke="#000" stroke-width="1.6" rx="0.8"/>
<text x="749.5" y="654.6" font-size="20" font-weight="bold">NO<tspan font-size="13" dy="5">3</tspan><tspan font-size="13" dy="-13">-</tspan><tspan dy="8">-N</tspan></text>
<rect x="829.80" y="637" width="46" height="21.5" fill="url(#gol)" stroke="#000" stroke-width="1.6" rx="0.8"/>
<text x="882" y="654.6" font-size="20" font-weight="bold">NO<tspan font-size="13" dy="5">2</tspan><tspan font-size="13" dy="-13">-</tspan><tspan dy="8">-N</tspan></text>
<rect x="967.30" y="637" width="46" height="21.5" fill="url(#gb)" stroke="#000" stroke-width="1.6" rx="0.8"/>
<text x="1019.2" y="654.6" font-size="20" font-weight="bold">NH<tspan font-size="13" dy="5">4</tspan><tspan font-size="13" dy="-13">+</tspan><tspan dy="8">-N</tspan></text>
<path d="M1107 647.5 h11 M1144.6 647.5 h10" stroke="#000" stroke-width="3.2"/>
<circle cx="1131" cy="647.5" r="8.6" fill="#fff" stroke="#000" stroke-width="2.9"/>
<text x="1160.5" y="654.6" font-size="20" font-weight="bold">TN</text>
<path d="M1196.8 647.5 h10.6 M1233.8 647.5 h10.2" stroke="#f00" stroke-width="3.2"/>
<rect x="1213.4" y="640.1" width="14" height="14.2" fill="#fff" stroke="#f00" stroke-width="2.9"/>
<text x="1250" y="654.6" font-size="20.5" font-weight="bold">COD</text>
<path d="M1299 647.5 h10.4 M1336.3 647.5 h9.7" stroke="#0f0" stroke-width="3.2"/>
<path d="M1322.5 635.8 L1332.4 652.4 L1312.6 652.4 Z" fill="#fff" stroke="#0f0" stroke-width="2.9" stroke-linejoin="round"/>
<text x="1351.5" y="654.6" font-size="20.5" font-weight="bold">TP</text>
</svg>
</body></html>
